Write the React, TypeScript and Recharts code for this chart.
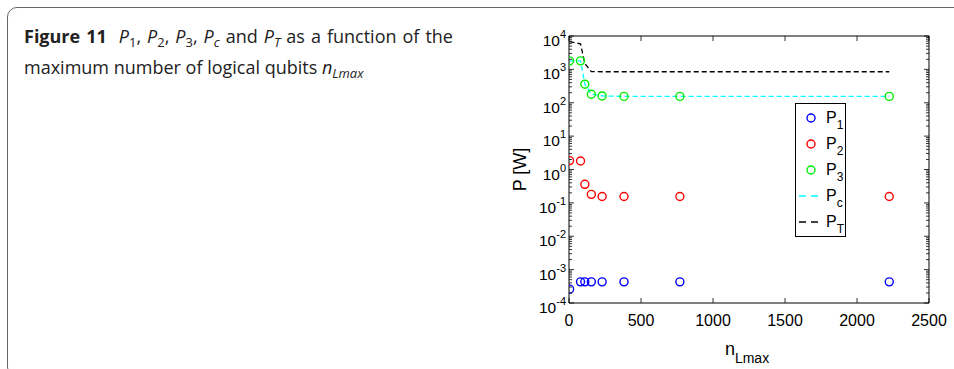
import React from 'react';
import { LineChart, Line, XAxis, YAxis, Legend, Label } from 'recharts';

// n_Lmax sample points and power components [W]
const N_LMAX = [4, 80, 110, 155, 230, 382, 770, 2224];
const P1 = [2.6e-4, 4.3e-4, 4.3e-4, 4.3e-4, 4.3e-4, 4.3e-4, 4.3e-4, 4.3e-4];
const P2 = [1.85, 1.8, 0.36, 0.18, 0.155, 0.155, 0.155, 0.155];
const P3 = [1800, 1800, 360, 180, 160, 155, 155, 155];
const PC = [1800, 1800, 360, 180, 160, 155, 155, 155];
const PT = [6800, 5800, 1500, 860, 850, 850, 850, 850];

const X_TICKS = [0, 500, 1000, 1500, 2000, 2500];
const Y_EXPONENTS = [-4, -3, -2, -1, 0, 1, 2, 3, 4];
const Y_MINOR_STEPS = [2, 3, 4, 5, 6, 7, 8, 9];

const Y_TICKS = Y_EXPONENTS.flatMap(e =>
    e === 4 ? [1e4] : [Math.pow(10, e), ...Y_MINOR_STEPS.map(m => m * Math.pow(10, e))]
);

const toRows = (vals: number[]) => N_LMAX.map((n, i) => ({ n, v: vals[i] }));

const SERIES = [
    { key: 'p1', sub: '1', color: '#0000ff', kind: 'circle', data: toRows(P1) },
    { key: 'p2', sub: '2', color: '#ff0000', kind: 'circle', data: toRows(P2) },
    { key: 'p3', sub: '3', color: '#00ee00', kind: 'circle', data: toRows(P3) },
    { key: 'pc', sub: 'c', color: '#00ffff', kind: 'dash', data: toRows(PC) },
    { key: 'pt', sub: 'T', color: '#000000', kind: 'dash', data: toRows(PT) },
];

const TM = 8; // tick margin, used to recover axis position inside tick renderers
const AXIS_FONT = '"Liberation Sans", Arial, sans-serif';

const XTick = ({ x, y, payload, side }: any) => {
    const ay = side === 'bottom' ? y - TM : y + TM;
    const dir = side === 'bottom' ? -1 : 1;
    return (
        <g>
            <line x1={x} x2={x} y1={ay} y2={ay + dir * 5} stroke="#000" strokeWidth={0.8} />
            {side === 'bottom' && (
                <text x={x} y={ay + 23} textAnchor="middle" fontSize={16} fontFamily={AXIS_FONT} fill="#000">
                    {payload.value}
                </text>
            )}
        </g>
    );
};

const YTick = ({ x, y, payload, side }: any) => {
    const ax = side === 'left' ? x + TM : x - TM;
    const dir = side === 'left' ? 1 : -1;
    const v = payload.value;
    const e = Math.round(Math.log10(v));
    const major = Math.abs(v - Math.pow(10, e)) < 1e-6 * Math.pow(10, e);
    return (
        <g>
            <line x1={ax} x2={ax + dir * (major ? 5 : 3)} y1={y} y2={y} stroke="#000" strokeWidth={0.8} />
            {side === 'left' && major && (
                <text x={ax - 3} y={y + 10} textAnchor="end" fontSize={15.5} fontFamily={AXIS_FONT} fill="#000">
                    10<tspan dy={-8} fontSize={11}>{e}</tspan>
                </text>
            )}
        </g>
    );
};

const YLabel = ({ viewBox }: any) => {
    const cx = viewBox.x + 21;
    const cy = viewBox.y + viewBox.height / 2;
    return (
        <text
            x={cx}
            y={cy}
            transform={`rotate(-90, ${cx}, ${cy})`}
            textAnchor="middle"
            dominantBaseline="central"
            fontSize={18}
            fontFamily={AXIS_FONT}
            fill="#000"
        >
            P [W]
        </text>
    );
};

const XLabel = ({ viewBox }: any) => {
    const cx = viewBox.x + viewBox.width / 2 - 2;
    return (
        <text x={cx} y={viewBox.y + 52} textAnchor="middle" fontSize={18} fontFamily={AXIS_FONT} fill="#000">
            n<tspan dy={8} fontSize={14}>Lmax</tspan>
        </text>
    );
};

const LegendBox = () => (
    <div style={{ border: '1px solid #000', background: '#fff', width: 51, height: 134, boxSizing: 'border-box' }}>
        <svg width={49} height={132} style={{ display: 'block' }}>
            {SERIES.map((s, i) => {
                const cy = 14 + i * 26;
                return (
                    <g key={s.key}>
                        {s.kind === 'circle' ? (
                            <circle cx={15} cy={cy} r={4} fill="none" stroke={s.color} strokeWidth={1.4} />
                        ) : (
                            <line x1={3} x2={22} y1={cy} y2={cy} stroke={s.color} strokeWidth={1.4} strokeDasharray="7 5" />
                        )}
                        <text x={30} y={cy + 5} fontSize={16} fontFamily={AXIS_FONT} fill="#000">
                            P<tspan dy={6} fontSize={12}>{s.sub}</tspan>
                        </text>
                    </g>
                );
            })}
        </svg>
    </div>
);

const sub: React.CSSProperties = { fontSize: '0.72em', verticalAlign: '-0.3em', lineHeight: 0 };

export default function App() {
    return (
        <div style={{ position: 'absolute', left: 0, top: 0, width: 954, height: 369, overflow: 'hidden', background: '#fff' }}>
            <div
                style={{
                    position: 'absolute',
                    left: 7,
                    top: 7,
                    width: 1100,
                    height: 370,
                    border: '1px solid #666',
                    borderRadius: 10,
                    boxSizing: 'border-box',
                }}
            />
            <div
                style={{
                    position: 'absolute',
                    left: 24,
                    top: 21,
                    width: 429,
                    textAlign: 'justify',
                    fontFamily: '"Open Sans", sans-serif',
                    fontSize: 18,
                    lineHeight: '31px',
                    color: '#222',
                }}
            >
                <b>Figure 11</b>&nbsp;&nbsp;<i>P</i><span style={sub}>1</span>, <i>P</i><span style={sub}>2</span>,{' '}
                <i>P</i><span style={sub}>3</span>, <i>P</i><span style={sub}><i>c</i></span> and <i>P</i>
                <span style={sub}><i>T</i></span> as a function of the maximum number of logical qubits <i>n</i>
                <span style={sub}><i>Lmax</i></span>
            </div>
            <div style={{ position: 'absolute', left: 0, top: 0 }}>
                <LineChart width={954} height={369} margin={{ top: 31, right: 20, bottom: 16, left: 499 }}>
                    <XAxis
                        xAxisId="b"
                        type="number"
                        dataKey="n"
                        domain={[0, 2500]}
                        ticks={X_TICKS}
                        interval={0}
                        allowDataOverflow
                        height={50}
                        tickSize={0}
                        tickMargin={TM}
                        axisLine={{ stroke: '#000', strokeWidth: 1 }}
                        tick={(p: any) => <XTick {...p} side="bottom" />}
                    >
                        <Label content={XLabel} />
                    </XAxis>
                    <XAxis
                        xAxisId="t"
                        orientation="top"
                        type="number"
                        dataKey="n"
                        domain={[0, 2500]}
                        ticks={X_TICKS}
                        interval={0}
                        allowDataOverflow
                        height={5}
                        tickSize={0}
                        tickMargin={TM}
                        axisLine={{ stroke: '#000', strokeWidth: 1 }}
                        tick={(p: any) => <XTick {...p} side="top" />}
                    />
                    <YAxis
                        yAxisId="l"
                        type="number"
                        scale="log"
                        domain={[1e-4, 1e4]}
                        ticks={Y_TICKS}
                        interval={0}
                        allowDataOverflow
                        width={70}
                        tickSize={0}
                        tickMargin={TM}
                        axisLine={{ stroke: '#000', strokeWidth: 1 }}
                        tick={(p: any) => <YTick {...p} side="left" />}
                    >
                        <Label content={YLabel} />
                    </YAxis>
                    <YAxis
                        yAxisId="r"
                        orientation="right"
                        type="number"
                        scale="log"
                        domain={[1e-4, 1e4]}
                        ticks={Y_TICKS}
                        interval={0}
                        allowDataOverflow
                        width={5}
                        tickSize={0}
                        tickMargin={TM}
                        axisLine={{ stroke: '#000', strokeWidth: 1 }}
                        tick={(p: any) => <YTick {...p} side="right" />}
                    />
                    <Legend
                        layout="vertical"
                        align="center"
                        verticalAlign="middle"
                        content={<LegendBox />}
                        wrapperStyle={{ position: 'absolute', left: 795, top: 103, width: 51, height: 134 }}
                    />
                    {SERIES.map(s => (
                        <Line
                            key={s.key}
                            xAxisId="b"
                            yAxisId="l"
                            data={s.data}
                            dataKey="v"
                            type="linear"
                            stroke={s.kind === 'dash' ? s.color : 'none'}
                            strokeWidth={1.3}
                            strokeDasharray={s.kind === 'dash' ? '5 3' : undefined}
                            dot={s.kind === 'circle' ? { r: 4, fill: 'none', stroke: s.color, strokeWidth: 1.4 } : false}
                            activeDot={false}
                            isAnimationActive={false}
                        />
                    ))}
                </LineChart>
            </div>
        </div>
    );
}
